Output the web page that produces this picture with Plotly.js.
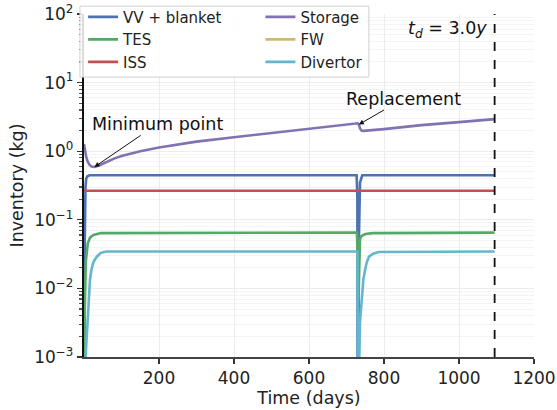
<!DOCTYPE html>
<html>
<head>
<meta charset="utf-8">
<script src="https://cdn.plot.ly/plotly-3.0.1.min.js"></script>
<style>html,body{margin:0;padding:0;background:#fff;}#chart{width:557px;height:410px;}</style>
</head>
<body>
<div id="chart"></div>
<script>
// ---- data ----
const seriesNames = ["VV + blanket", "TES", "ISS", "Storage", "FW", "Divertor"];

const vvDays   = [0, 1, 2, 4, 6, 9, 15, 727, 729, 730, 731, 733, 736, 742, 1095];
const vvInv    = [1e-5, 0.002, 0.05, 0.3, 0.4, 0.43, 0.445, 0.445, 0.2, 1e-5, 1e-5, 0.05, 0.35, 0.445, 0.445];

const tesDays  = [0, 1, 2, 5, 10, 16, 25, 45, 728, 730, 732, 734, 736, 740, 750, 770, 1095];
const tesInv   = [1e-5, 0.001, 0.005, 0.025, 0.045, 0.055, 0.06, 0.064, 0.065, 0.02, 0.0063, 0.02, 0.052, 0.058, 0.062, 0.064, 0.065];

const issDays  = [0, 1, 1095];
const issInv   = [0.265, 0.265, 0.265];

const stoDays  = [0, 3, 6, 10, 15, 20, 28, 40, 60, 80, 100, 150, 200, 300, 400, 500, 600, 700, 730, 733, 736, 740, 745, 800, 900, 1000, 1095];
const stoInv   = [1.27, 1.0, 0.82, 0.7, 0.63, 0.6, 0.59, 0.62, 0.7, 0.78, 0.85, 1.0, 1.13, 1.38, 1.6, 1.83, 2.1, 2.42, 2.55, 2.45, 2.15, 2.0, 1.98, 2.1, 2.4, 2.65, 2.93];

const fwDays   = [0, 1095];
const fwInv    = [1e-5, 1e-5];

const divDays  = [0, 2, 5, 9, 12, 16, 20, 25, 34, 45, 60, 729, 730, 731, 733, 736, 740, 745, 750, 754, 760, 771, 785, 1095];
const divInv   = [1e-5, 3e-4, 0.0012, 0.003, 0.0065, 0.0135, 0.019, 0.024, 0.029, 0.033, 0.0345, 0.0345, 0.002, 1e-5, 5e-4, 0.0032, 0.007, 0.0136, 0.019, 0.024, 0.029, 0.032, 0.034, 0.0345];

const xTickVals = [200, 400, 600, 800, 1000, 1200];
const yTickVals = [1e-3, 1e-2, 1e-1, 1, 10, 100];
const yTickText = ["10<sup>−3</sup>", "10<sup>−2</sup>", "10<sup>−1</sup>", "10<sup>0</sup>", "10<sup>1</sup>", "10<sup>2</sup>"];

const tdYears = 3.0;
const tdDays = tdYears * 365;
const replacementDay = 733;
const minimumDay = 28;

// ---- styling ----
const colors = ["#4c72b0", "#55a868", "#c44e52", "#8172b2", "#ccb974", "#64b5cd"];
const FONT = "DejaVu Sans, sans-serif";

const xs = [vvDays, tesDays, issDays, stoDays, fwDays, divDays];
const ys = [vvInv, tesInv, issInv, stoInv, fwInv, divInv];
const legendOf = ["legend", "legend", "legend", "legend2", "legend2", "legend2"];

const traces = seriesNames.map((n, i) => ({
  type: "scatter", mode: "lines", name: n,
  x: xs[i], y: ys[i],
  line: {color: colors[i], width: 2.6},
  legend: legendOf[i],
  cliponaxis: true
}));

function storageAt(d) {
  for (let i = 0; i < stoDays.length - 1; i++) {
    if (d >= stoDays[i] && d <= stoDays[i+1]) {
      const f = (d - stoDays[i]) / (stoDays[i+1] - stoDays[i]);
      return stoInv[i] + f * (stoInv[i+1] - stoInv[i]);
    }
  }
  return stoInv[stoInv.length - 1];
}

const layout = {
  width: 557, height: 410,
  margin: {l: 84, r: 23, t: 14, b: 53, autoexpand: false},
  paper_bgcolor: "#fff", plot_bgcolor: "#fff",
  font: {family: FONT, size: 17, color: "#222"},
  showlegend: true,
  xaxis: {
    range: [0, 1200], tickvals: xTickVals, ticks: "outside", ticklen: 5, tickwidth: 1.2, tickcolor: "#333",
    showline: true, linecolor: "#444", linewidth: 1.6, zeroline: false,
    showgrid: true, gridcolor: "#ececec", gridwidth: 1, automargin: false,
    tickfont: {size: 17, family: FONT, color: "#222"},
    title: {text: "Time (days)", font: {size: 17.5, family: FONT, color: "#222"}, standoff: 2}
  },
  yaxis: {
    type: "log", range: [-3, 2], tickvals: yTickVals, ticktext: yTickText,
    ticks: "outside", ticklen: 5, tickwidth: 1.2, tickcolor: "#333",
    showline: true, linecolor: "#111", linewidth: 2.2, zeroline: false,
    showgrid: true, gridcolor: "#ececec", gridwidth: 1, automargin: false,
    minor: {dtick: "D1", ticks: "outside", ticklen: 3, tickcolor: "#555", showgrid: true, gridcolor: "#f4f4f4"},
    tickfont: {size: 17, family: FONT, color: "#222"},
    title: {text: "Inventory (kg)", font: {size: 17.5, family: FONT, color: "#222"}, standoff: 6}
  },
  legend: {
    x: -0.002, xanchor: "left", y: 1.039, yanchor: "top",
    bgcolor: "rgba(0,0,0,0)", borderwidth: 0,
    font: {size: 15, family: FONT, color: "#222"}, itemwidth: 30, tracegroupgap: 0
  },
  legend2: {
    x: 0.392, xanchor: "left", y: 1.039, yanchor: "top",
    bgcolor: "rgba(0,0,0,0)", borderwidth: 0,
    font: {size: 15, family: FONT, color: "#222"}, itemwidth: 30, tracegroupgap: 0
  },
  shapes: [
    {type: "rect", xref: "paper", yref: "paper", x0: -0.009, x1: 0.633, y0: 0.816, y1: 1.023,
     line: {color: "#d0d0d0", width: 1}, fillcolor: "rgba(255,255,255,0.85)", layer: "above"},
    {type: "line", xref: "x", yref: "paper", x0: tdDays, x1: tdDays, y0: 0, y1: 1,
     line: {color: "#111", width: 1.8, dash: "dash"}}
  ],
  annotations: [
    {x: minimumDay, y: Math.log10(storageAt(minimumDay)), xref: "x", yref: "y",
     text: "Minimum point", showarrow: true, arrowhead: 2, arrowsize: 1, arrowwidth: 1, arrowcolor: "#111",
     ax: 63, ay: -43, font: {size: 17.5, family: FONT, color: "#111"}},
    {x: replacementDay, y: Math.log10(storageAt(replacementDay)), xref: "x", yref: "y",
     text: "Replacement", showarrow: true, arrowhead: 2, arrowsize: 1, arrowwidth: 1, arrowcolor: "#111",
     ax: 45, ay: -26, font: {size: 17.5, family: FONT, color: "#111"}},
    {x: tdDays, y: 1, xref: "x", yref: "paper", xanchor: "right", yanchor: "top", xshift: -6, yshift: -2,
     text: "<i>t</i><sub><i>d</i></sub> = 3.0<i>y</i>", showarrow: false,
     font: {size: 17.5, family: FONT, color: "#111"}}
  ]
};

Plotly.newPlot("chart", traces, layout, {displayModeBar: false, staticPlot: true});
</script>
</body>
</html>
